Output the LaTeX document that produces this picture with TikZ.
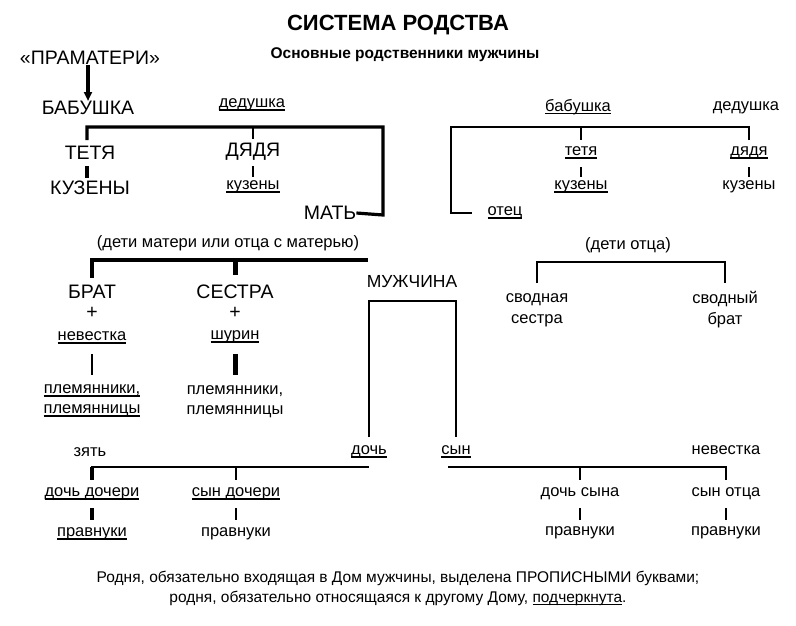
\documentclass[tikz,border=0pt]{standalone}
\usepackage{fontspec}
\setmainfont{Liberation Sans}
\usetikzlibrary{arrows.meta}
\newcommand\ulx[1]{\setbox0\hbox{#1}\rlap{\rule[-3pt]{\wd0}{1.5pt}}\box0}
\tikzset{
  big/.style={font=\fontsize{19.5}{22}\selectfont, inner sep=0pt},
  sm/.style={font=\fontsize{16.5}{21}\selectfont, inner sep=0pt, align=center},
  thk/.style={line width=3.2pt},
  thn/.style={line width=1.8pt},
}
\begin{document}
\begin{tikzpicture}[x=1pt,y=-1pt]
\useasboundingbox (0,0) rectangle (796,625);
\node[font=\bfseries\fontsize{22}{24}\selectfont] (title) at (398,25) {СИСТЕМА РОДСТВА};
\node[font=\bfseries\fontsize{15.5}{18}\selectfont] (sub) at (405,55) {Основные родственники мужчины};
% left top
\node[big] (pram) at (90,58) {«ПРАМАТЕРИ»};
\node[big] (bab) at (88,108) {БАБУШКА};
\draw[thk,-{Triangle[length=9pt,width=8pt]}] (pram.south -| 88,0) -- (bab.north -| 88,0);
\node[sm] (ded) at (252,105) {\ulx{дедушка}};
\node[big] (mat) at (330,213) {МАТЬ};
\draw[thk] (87,140) -- (87,127) -- (383,127) -- (383,215) -- (mat.east);
\node[big] (tet) at (90,153) {ТЕТЯ};
\node[big] (kuz) at (90,188) {КУЗЕНЫ};
\draw[thk] (87,166) -- (87,178);
\draw[thn] (253,127) -- (253,139);
\node[big] (dyad) at (253,152) {ДЯДЯ};
\node[sm] (kuz2) at (253,187) {\ulx{кузены}};
\draw[thn] (253,166) -- (253,177);
% children of mother
\node[sm] (deti) at (228,243) {(дети матери или отца с матерью)};
\draw[thk] (92,278) -- (92,260) -- (368,260);
\draw[line width=5pt] (235,260) -- (235,275);
\node[big] (brat) at (92,292) {БРАТ};
\node[big] (p1) at (92,313) {+};
\node[sm] (nev) at (92,338) {\ulx{невестка}};
\draw[line width=2.6pt] (92,354) -- (92,375);
\node[sm] (pl1) at (92,401) {\ulx{племянники,}\\[-1pt]\ulx{племянницы}};
\node[big] (ses) at (235,292) {СЕСТРА};
\node[big] (p2) at (235,313) {+};
\node[sm] (shu) at (235,337) {\ulx{шурин}};
\draw[line width=5pt] (235,354) -- (235,375);
\node[sm] (pl2) at (235,402) {племянники,\\[-1pt]племянницы};
% man
\node[big,font=\fontsize{17.5}{20}\selectfont] (man) at (412,282) {МУЖЧИНА};
\node[sm] (doch) at (369,452) {\ulx{дочь}};
\node[sm] (syn) at (456,452) {\ulx{сын}};
\draw[thn] (doch.north |- 0,437) -- (369,301) -- (456,301) -- (456,437);
\node[sm] (zyat) at (90,452) {зять};
\draw[thn] (92,480) -- (92,467) -- (369,467);
\draw[line width=4pt] (92,467) -- (92,480);
\draw[thn] (236,467) -- (236,480);
\node[sm] (dd) at (92,494) {\ulx{дочь дочери}};
\draw[line width=4pt] (92,508) -- (92,520);
\node[sm] (pr1) at (92,534) {\ulx{правнуки}};
\node[sm] (sd) at (236,494) {\ulx{сын дочери}};
\draw[thn] (236,508) -- (236,520);
\node[sm] (pr2) at (236,534) {правнуки};
% right bottom
\node[sm] (nev2) at (726,450) {невестка};
\draw[thn] (448,467) -- (726,467) -- (726,480);
\draw[thn] (580,467) -- (580,480);
\node[sm] (ds) at (580,494) {дочь сына};
\draw[thn] (580,508) -- (580,520);
\node[sm] (pr3) at (580,533) {правнуки};
\node[sm] (so) at (726,494) {сын отца};
\draw[thn] (726,508) -- (726,520);
\node[sm] (pr4) at (726,533) {правнуки};
% upper right
\node[sm] (bab2) at (578,107) {\ulx{бабушка}};
\node[sm] (ded2) at (746,108) {дедушка};
\node[sm] (otec) at (505,213) {\ulx{отец}};
\draw[thk,line width=2.6pt] (749,140) -- (749,127) -- (451,127) -- (451,213) -- (472,213);
\draw[line width=2.6pt] (581,127) -- (581,140);
\node[sm] (tet2) at (581,153) {\ulx{тетя}};
\draw[thn] (581,167) -- (581,177);
\node[sm] (kuz3) at (581,187) {\ulx{кузены}};
\node[sm] (dyad2) at (749,153) {\ulx{дядя}};
\draw[thn] (749,167) -- (749,177);
\node[sm] (kuz4) at (749,187) {кузены};
% half siblings
\node[sm] (deto) at (628,245) {(дети отца)};
\draw[thn] (537,283) -- (537,262) -- (725,262) -- (725,283);
\node[sm] (svs) at (537,310) {сводная\\сестра};
\node[sm] (svb) at (725,310) {сводный\\брат};
% footer
\node[sm,font=\fontsize{15.5}{20}\selectfont] (foot) at (398,588) {Родня, обязательно входящая в Дом мужчины, выделена ПРОПИСНЫМИ буквами;\\родня, обязательно относящаяся к другому Дому, \ulx{подчеркнута}.};
\end{tikzpicture}
\end{document}
